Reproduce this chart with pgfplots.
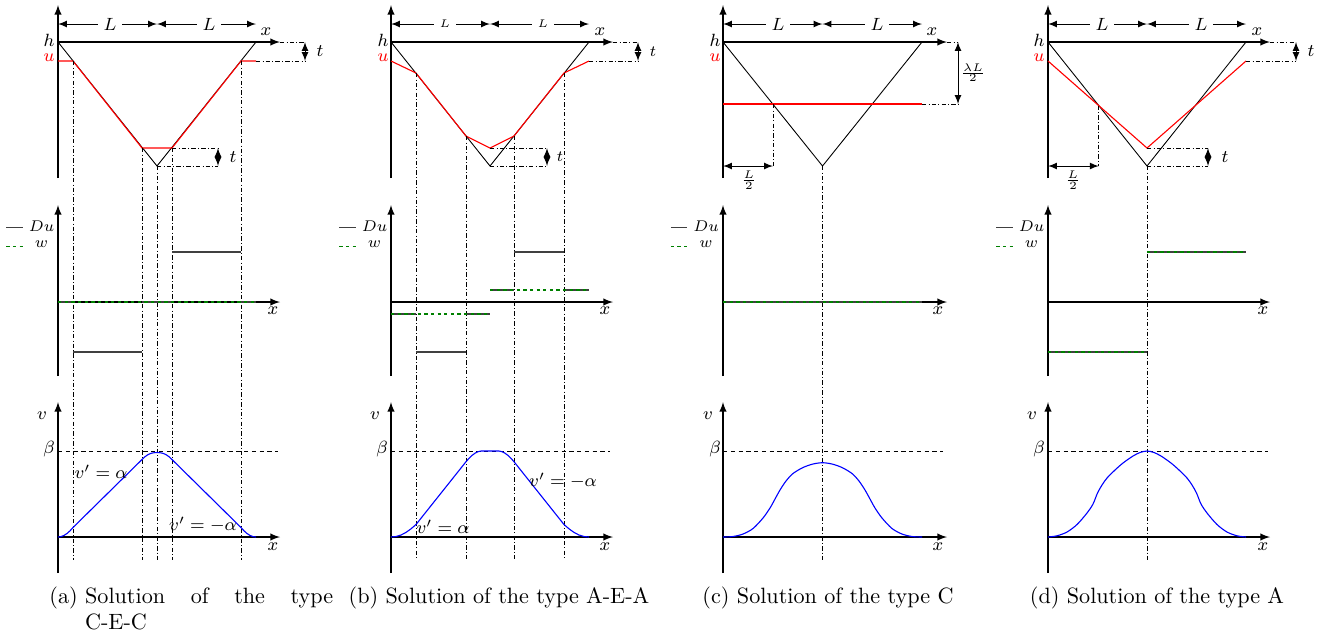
\documentclass[border=0pt]{standalone}
\usepackage{pgfplots}
\pgfplotsset{compat=1.18}
\newcommand{\px}{0.4515pt}

\tikzset{
  dd/.style={line width=0.4pt, dash pattern=on 2pt off 1pt on 0.4pt off 1pt},
  dim/.style={<->, >=latex, line width=0.4pt},
  lab/.style={font=\footnotesize, inner sep=1pt},
}
\pgfplotsset{
  diag/.style={axis lines=middle, axis line style={-latex, line width=0.5pt},
    x=\px, y=\px, xtick=\empty, ytick=\empty, clip=false, anchor=origin,
    xmin=0, unbounded coords=jump},
  top/.style={diag, ymin=-136, ymax=37},
  mid/.style={diag, ymin=-74, ymax=97,
    legend style={draw=none, fill=none, at={(-0.238,0.925)}, anchor=north west,
      font=\fontsize{7.3}{8}\selectfont, inner sep=0pt, row sep=1pt, column sep=1.4pt,
      nodes={inner sep=1pt}},
    legend cell align=center,
    legend image code/.code={\draw[##1] (0pt,0pt) -- (7.5pt,0pt);}},
  bot/.style={diag, ymin=-36, ymax=135},
  tri/.style={black, line width=0.4pt},
  ured/.style={red, line width=0.5pt},
  du/.style={black!75, line width=0.6pt},
  wg/.style={green!50!black, line width=0.5pt, dash pattern=on 1.5pt off 1.5pt},
  vb/.style={blue, line width=0.5pt},
  bl/.style={black, line width=0.4pt, dash pattern=on 2pt off 1.5pt},
}

\begin{document}
\begin{tikzpicture}
\useasboundingbox (0,0) rectangle (1325*\px,-639*\px);

% ================= (a) C-E-C =================
\begin{axis}[top, at={(58*\px,-42*\px)}, xmax=222]
\addplot[tri] coordinates {(0,0) (99,-124) (198,0)};
\addplot[ured] coordinates {(0,-19) (15,-19) (84,-106) (114,-106) (183,-19) (198,-19)};
\draw[dim] (axis cs:0,18) -- (axis cs:99,18);
\draw[dim] (axis cs:99,18) -- (axis cs:198,18);
\node[lab, fill=white, inner sep=2.5pt] at (axis cs:52,18) {$L$};
\node[lab, fill=white, inner sep=2.5pt] at (axis cs:151,18) {$L$};
\node[lab] at (axis cs:-9,2) {$h$};
\node[lab, red] at (axis cs:-9,-16) {$u$};
\node[lab] at (axis cs:208,10) {$x$};
\draw[dd] (axis cs:222,0) -- (axis cs:247,0);
\draw[dd] (axis cs:198,-19) -- (axis cs:247,-19);
\draw[dim] (axis cs:247,0) -- (axis cs:247,-19);
\node[lab] at (axis cs:262,-9.5) {$t$};
\draw[dd] (axis cs:114,-106) -- (axis cs:160,-106);
\draw[dd] (axis cs:99,-124) -- (axis cs:160,-124);
\draw[dim] (axis cs:160,-106) -- (axis cs:160,-124);
\node[lab] at (axis cs:175,-115) {$t$};
\draw[dd] (axis cs:15,-19) -- (axis cs:15,-518);
\draw[dd] (axis cs:84,-106) -- (axis cs:84,-518);
\draw[dd] (axis cs:99,-124) -- (axis cs:99,-518);
\draw[dd] (axis cs:114,-106) -- (axis cs:114,-518);
\draw[dd] (axis cs:183,-19) -- (axis cs:183,-518);
\end{axis}

\begin{axis}[mid, at={(58*\px,-302*\px)}, xmax=222]
\addplot[du] coordinates {(0,0) (15,0) (15,nan) (15,-50) (84,-50) (84,nan) (84,0) (114,0) (114,nan) (114,50) (183,50) (183,nan) (183,0) (198,0)};
\addlegendentry{$Du$}
\addplot[wg] coordinates {(0,0) (198,0)};
\addlegendentry{$w$}
\node[lab] at (axis cs:215,-9) {$x$};
\end{axis}

\begin{axis}[bot, at={(58*\px,-537*\px)}, xmax=222]
\addplot[bl] coordinates {(0,86) (220,86)};
\addplot[vb] coordinates {(0,0) (3,0.4) (6,1.6) (9,3.5) (12,6.2) (15,9.5) (84,77.5) (87,80.3) (90,82.4) (93,83.7) (96,84.3) (99,84.5) (102,84.3) (105,83.7) (108,82.4) (111,80.3) (114,77.5) (183,9.5) (186,6.2) (189,3.5) (192,1.6) (195,0.4) (198,0)};
\node[lab] at (axis cs:-16,121) {$v$};
\node[lab] at (axis cs:-9,88) {$\beta$};
\node[lab] at (axis cs:215,-10) {$x$};
\node[lab] at (axis cs:43,65) {$v'=\alpha$};
\node[lab] at (axis cs:145,12) {$v'=-\alpha$};
\end{axis}

% ================= (b) A-E-A =================
\begin{axis}[top, at={(391*\px,-42*\px)}, xmax=222]
\addplot[tri] coordinates {(0,0) (99,-124) (198,0)};
\addplot[ured] coordinates {(0,-19) (25,-31) (75,-94) (99,-106) (123,-94) (173,-31) (198,-19)};
\draw[dim] (axis cs:0,18) -- (axis cs:99,18);
\draw[dim] (axis cs:99,18) -- (axis cs:198,18);
\node[lab, font=\tiny, fill=white, inner sep=2.5pt] at (axis cs:54,18) {$L$};
\node[lab, font=\tiny, fill=white, inner sep=2.5pt] at (axis cs:152,18) {$L$};
\node[lab] at (axis cs:-8,2) {$h$};
\node[lab, red] at (axis cs:-8,-16) {$u$};
\node[lab] at (axis cs:209,10) {$x$};
\draw[dd] (axis cs:222,0) -- (axis cs:247,0);
\draw[dd] (axis cs:198,-19) -- (axis cs:247,-19);
\draw[dim] (axis cs:247,0) -- (axis cs:247,-19);
\node[lab, font=\scriptsize] at (axis cs:262,-9.5) {$t$};
\draw[dd] (axis cs:99,-106) -- (axis cs:156,-106);
\draw[dd] (axis cs:99,-124) -- (axis cs:156,-124);
\draw[dim] (axis cs:156,-106) -- (axis cs:156,-124);
\node[lab, font=\scriptsize] at (axis cs:169,-115) {$t$};
\draw[dd] (axis cs:25,-31) -- (axis cs:25,-518);
\draw[dd] (axis cs:75,-94) -- (axis cs:75,-518);
\draw[dd] (axis cs:123,-94) -- (axis cs:123,-518);
\draw[dd] (axis cs:173,-31) -- (axis cs:173,-518);
\end{axis}

\begin{axis}[mid, at={(391*\px,-302*\px)}, xmax=222]
\addplot[du] coordinates {(0,-12) (25,-12) (25,nan) (25,-50) (75,-50) (75,nan) (75,-12) (99,-12) (99,nan) (99,12) (123,12) (123,nan) (123,50) (173,50) (173,nan) (173,12) (198,12)};
\addlegendentry{$Du$}
\addplot[wg] coordinates {(0,-12) (99,-12) (99,nan) (99,12) (198,12)};
\addlegendentry{$w$}
\node[lab] at (axis cs:214,-9) {$x$};
\end{axis}

\begin{axis}[bot, at={(391*\px,-537*\px)}, xmax=222]
\addplot[bl] coordinates {(0,86) (219,86)};
\addplot[vb] coordinates {(0,0) (5,0.5) (10,2) (15,4.6) (20,8.2) (25,12.5) (75,75.3) (78,78.7) (81,81.6) (84,83.8) (87,85.3) (90,86) (108,86) (111,85.3) (114,83.8) (117,81.6) (120,78.7) (123,75.3) (173,12.5) (178,8.2) (183,4.6) (188,2) (193,0.5) (198,0)};
\node[lab] at (axis cs:-16,121) {$v$};
\node[lab] at (axis cs:-9,88) {$\beta$};
\node[lab] at (axis cs:214,-10) {$x$};
\node[lab] at (axis cs:52,10) {$v'=\alpha$};
\node[lab] at (axis cs:172,56) {$v'=-\alpha$};
\end{axis}

% ================= (c) C =================
\begin{axis}[top, at={(723*\px,-42*\px)}, xmax=224]
\addplot[tri] coordinates {(0,0) (99.5,-124) (199,0)};
\addplot[ured] coordinates {(0,-62) (199,-62)};
\draw[dim] (axis cs:0,18) -- (axis cs:99.5,18);
\draw[dim] (axis cs:99.5,18) -- (axis cs:199,18);
\node[lab, fill=white, inner sep=2.5pt] at (axis cs:55,18) {$L$};
\node[lab, fill=white, inner sep=2.5pt] at (axis cs:154,18) {$L$};
\node[lab] at (axis cs:-8,2) {$h$};
\node[lab, red] at (axis cs:-8,-16) {$u$};
\node[lab] at (axis cs:209,10) {$x$};
\draw[dd] (axis cs:224,0) -- (axis cs:235,0);
\draw[dd] (axis cs:199,-62) -- (axis cs:235,-62);
\draw[dim] (axis cs:235,0) -- (axis cs:235,-62);
\node[lab, font=\tiny] at (axis cs:250,-31) {$\frac{\lambda L}{2}$};
\draw[dd] (axis cs:50,-62) -- (axis cs:50,-124);
\draw[dim] (axis cs:0,-124) -- (axis cs:50,-124);
\node[lab, font=\scriptsize] at (axis cs:26,-138) {$\frac{L}{2}$};
\draw[dd] (axis cs:99.5,-124) -- (axis cs:99.5,-518);
\end{axis}

\begin{axis}[mid, at={(723*\px,-302*\px)}, xmax=224]
\addplot[du] coordinates {(0,0) (199,0)};
\addlegendentry{$Du$}
\addplot[wg] coordinates {(0,0) (199,0)};
\addlegendentry{$w$}
\node[lab] at (axis cs:215,-9) {$x$};
\end{axis}

\begin{axis}[bot, at={(723*\px,-537*\px)}, xmax=224]
\addplot[bl] coordinates {(0,86) (220,86)};
\addplot[vb, smooth] coordinates {(0,0) (10,0.5) (20,3) (30,8.5) (40,19) (47,29) (52,38) (57,47) (63,56) (70,63.5) (80,69.5) (90,73) (99.5,74.3) (109,73) (119,69.5) (129,63.5) (136,56) (142,47) (147,38) (152,29) (159,19) (169,8.5) (179,3) (189,0.5) (199,0)};
\node[lab] at (axis cs:-15,121) {$v$};
\node[lab] at (axis cs:-8,88) {$\beta$};
\node[lab] at (axis cs:215,-10) {$x$};
\end{axis}

% ================= (d) A =================
\begin{axis}[top, at={(1048*\px,-42*\px)}, xmax=222]
\addplot[tri] coordinates {(0,0) (99,-124) (198,0)};
\addplot[ured] coordinates {(0,-19) (99,-106) (198,-19)};
\draw[dim] (axis cs:0,18) -- (axis cs:99,18);
\draw[dim] (axis cs:99,18) -- (axis cs:198,18);
\node[lab, fill=white, inner sep=2.5pt] at (axis cs:54,18) {$L$};
\node[lab, fill=white, inner sep=2.5pt] at (axis cs:153,18) {$L$};
\node[lab] at (axis cs:-9,2) {$h$};
\node[lab, red] at (axis cs:-9,-16) {$u$};
\node[lab] at (axis cs:209,10) {$x$};
\draw[dd] (axis cs:222,0) -- (axis cs:248,0);
\draw[dd] (axis cs:198,-19) -- (axis cs:248,-19);
\draw[dim] (axis cs:248,0) -- (axis cs:248,-19);
\node[lab] at (axis cs:263,-9.5) {$t$};
\draw[dd] (axis cs:99,-106) -- (axis cs:160,-106);
\draw[dd] (axis cs:99,-124) -- (axis cs:160,-124);
\draw[dim] (axis cs:160,-106) -- (axis cs:160,-124);
\node[lab] at (axis cs:177,-115) {$t$};
\draw[dd] (axis cs:50.8,-63.7) -- (axis cs:50.8,-124);
\draw[dim] (axis cs:0,-124) -- (axis cs:50.8,-124);
\node[lab, font=\scriptsize] at (axis cs:25,-138) {$\frac{L}{2}$};
\draw[dd] (axis cs:99,-124) -- (axis cs:99,-518);
\end{axis}

\begin{axis}[mid, at={(1048*\px,-302*\px)}, xmax=222]
\addplot[du] coordinates {(0,-50) (99,-50) (99,nan) (99,50) (198,50)};
\addlegendentry{$Du$}
\addplot[wg] coordinates {(0,-50) (99,-50) (99,nan) (99,50) (198,50)};
\addlegendentry{$w$}
\node[lab] at (axis cs:215,-9) {$x$};
\end{axis}

\begin{axis}[bot, at={(1048*\px,-537*\px)}, xmax=222]
\addplot[bl] coordinates {(0,86) (220,86)};
\addplot[vb, smooth] coordinates {(0,0) (9,1.2) (19,5) (29,12.5) (39,24) (45,33) (49.5,44) (54,52) (59,59) (67,67) (75,74) (85,81) (92,84.5) (99,86) (106,84.5) (113,81) (123,74) (131,67) (139,59) (144,52) (148.5,44) (153,33) (159,24) (169,12.5) (179,5) (189,1.2) (198,0)};
\node[lab] at (axis cs:-16,121) {$v$};
\node[lab] at (axis cs:-9,88) {$\beta$};
\node[lab] at (axis cs:215,-10) {$x$};
\end{axis}

% ================= captions =================
\node[anchor=base west, inner sep=0pt] at (49*\px,-603*\px)
  {(a)~\parbox[t]{112pt}{Solution\hfill of\hfill the\hfill type\\C-E-C}};
\node[anchor=base, inner sep=0pt] at (499*\px,-603*\px) {(b) Solution of the type A-E-A};
\node[anchor=base, inner sep=0pt] at (828*\px,-603*\px) {(c) Solution of the type C};
\node[anchor=base, inner sep=0pt] at (1157*\px,-603*\px) {(d) Solution of the type A};
\end{tikzpicture}
\end{document}
